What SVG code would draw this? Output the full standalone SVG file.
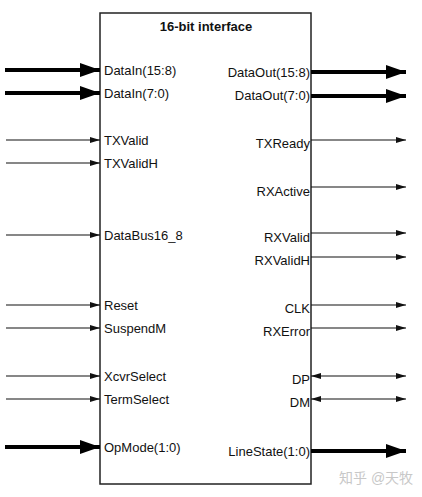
<svg xmlns="http://www.w3.org/2000/svg" width="422" height="497" viewBox="0 0 422 497">
<style>
.lbl{font-family:"Liberation Sans",Arial,sans-serif;font-size:13px;fill:#111}
.r{text-anchor:end}
.title{font-family:"Liberation Sans",Arial,sans-serif;font-size:13px;font-weight:bold;text-anchor:middle;fill:#111}
.thin{stroke:#111;stroke-width:1.2;fill:none;marker-end:url(#ah)}
.thick{stroke:#000;stroke-width:4;fill:none;marker-end:url(#AH)}
.bi{stroke:#111;stroke-width:1.2;fill:none;marker-end:url(#ah);marker-start:url(#ahs)}
.wm{font-family:"Liberation Sans","Noto Sans CJK SC",sans-serif;font-size:14px;fill:#c8c8c8}
</style>
<defs>
<marker id="ah" markerUnits="userSpaceOnUse" markerWidth="10" markerHeight="6" refX="10" refY="3" orient="auto"><path d="M0,0 L10,3 L0,6 z" fill="#111"/></marker>
<marker id="ahs" markerUnits="userSpaceOnUse" markerWidth="10" markerHeight="6" refX="0" refY="3" orient="auto"><path d="M10,0 L0,3 L10,6 z" fill="#111"/></marker>
<marker id="AH" markerUnits="userSpaceOnUse" markerWidth="20" markerHeight="14" refX="20" refY="7" orient="auto"><path d="M0,0 L20,7 L0,14 z" fill="#000"/></marker>
</defs>
<g id="block">
<rect x="100" y="13" width="211" height="471" fill="#fff" stroke="#222" stroke-width="1.5"/>
<text class="title" x="206" y="31">16-bit interface</text>
<text class="lbl" x="104" y="75">DataIn(15:8)</text>
<text class="lbl" x="104" y="98">DataIn(7:0)</text>
<text class="lbl" x="104" y="145">TXValid</text>
<text class="lbl" x="104" y="168">TXValidH</text>
<text class="lbl" x="104" y="240">DataBus16_8</text>
<text class="lbl" x="104" y="310">Reset</text>
<text class="lbl" x="104" y="333">SuspendM</text>
<text class="lbl" x="104" y="381">XcvrSelect</text>
<text class="lbl" x="104" y="404">TermSelect</text>
<text class="lbl" x="104" y="452">OpMode(1:0)</text>
<text class="lbl r" x="310" y="77">DataOut(15:8)</text>
<text class="lbl r" x="310" y="100">DataOut(7:0)</text>
<text class="lbl r" x="310" y="148">TXReady</text>
<text class="lbl r" x="310" y="196">RXActive</text>
<text class="lbl r" x="310" y="242">RXValid</text>
<text class="lbl r" x="310" y="265">RXValidH</text>
<text class="lbl r" x="310" y="313">CLK</text>
<text class="lbl r" x="310" y="336">RXError</text>
<text class="lbl r" x="310" y="384">DP</text>
<text class="lbl r" x="310" y="407">DM</text>
<text class="lbl r" x="310" y="456">LineState(1:0)</text>
</g>
<g id="connectors">
<line class="thick" x1="5" y1="70" x2="100" y2="70"/>
<line class="thick" x1="5" y1="93" x2="100" y2="93"/>
<line class="thin" x1="6" y1="140" x2="100" y2="140"/>
<line class="thin" x1="6" y1="163" x2="100" y2="163"/>
<line class="thin" x1="6" y1="235" x2="100" y2="235"/>
<line class="thin" x1="6" y1="305" x2="100" y2="305"/>
<line class="thin" x1="6" y1="328" x2="100" y2="328"/>
<line class="thin" x1="6" y1="376" x2="100" y2="376"/>
<line class="thin" x1="6" y1="399" x2="100" y2="399"/>
<line class="thick" x1="5" y1="447" x2="100" y2="447"/>
<line class="thick" x1="311" y1="72" x2="406" y2="72"/>
<line class="thick" x1="311" y1="96" x2="406" y2="96"/>
<line class="thin" x1="311" y1="140" x2="406" y2="140"/>
<line class="thin" x1="311" y1="187" x2="406" y2="187"/>
<line class="thin" x1="311" y1="233" x2="406" y2="233"/>
<line class="thin" x1="311" y1="257" x2="406" y2="257"/>
<line class="thin" x1="311" y1="305" x2="406" y2="305"/>
<line class="thin" x1="311" y1="328" x2="406" y2="328"/>
<line class="bi" x1="311" y1="376" x2="406" y2="376"/>
<line class="bi" x1="311" y1="399" x2="406" y2="399"/>
<line class="thick" x1="311" y1="451" x2="406" y2="451"/>
</g>
<text class="wm" x="339" y="483">知乎 @天牧</text>
</svg>
